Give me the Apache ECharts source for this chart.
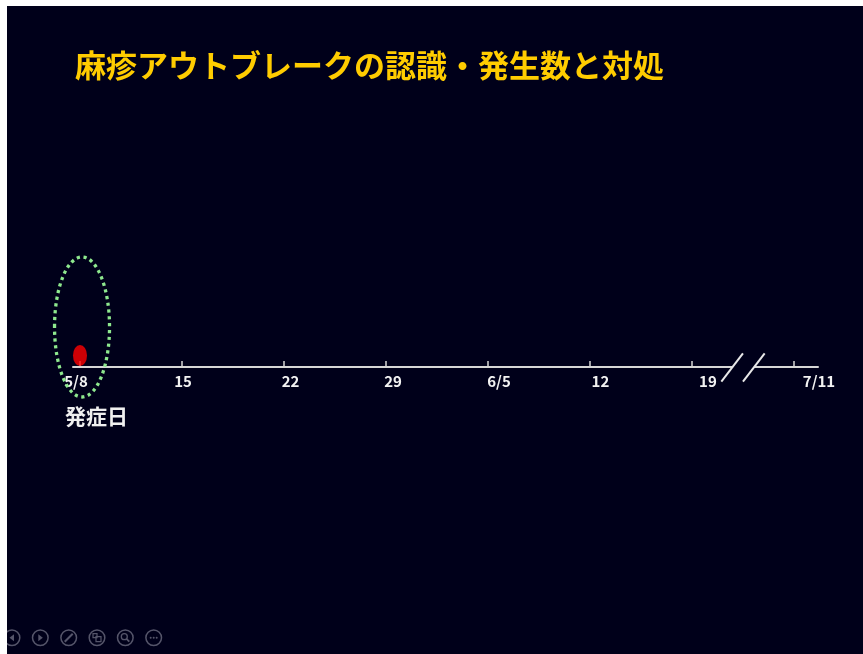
<!DOCTYPE html>
<html>
<head>
<meta charset="utf-8">
<script src="https://cdn.jsdelivr.net/npm/echarts@6/dist/echarts.min.js"></script>
<style>
  html, body { margin: 0; padding: 0; background: #ffffff; width: 863px; height: 654px; overflow: hidden; }
  #chart { position: absolute; left: 7px; top: 6px; width: 856px; height: 648px; }
</style>
</head>
<body>
<div id="chart"></div>
<script>
// ---- data ----
const titleText = '麻疹アウトブレークの認識・発生数と対処';
// tick labels on the (broken) date axis, and their positions in days from 5/8
// (the axis is broken between 6/19 and 7/11, shown as one week)
const tickLabels = ['5/8', '15', '22', '29', '6/5', '12', '19', '7/11'];
const tickDays = [0, 7, 14, 21, 28, 35, 42, 49];
// onset cases: day position and number of cases
const onsetDays = [0];
const onsetCases = [1];
const onsetLabel = '発症日';
// position of the axis break (between 19 and 7/11)
const breakDays = [45.5];
// highlighted cluster (dotted ellipse) centre: [day, cases]
const highlightCenter = [[0.14, 1.74]];

// ---- styles ----
const BG = '#00001a';
const FONT = '"Noto Sans CJK JP", "Noto Sans", sans-serif';
const AXIS_COLOR = '#d6d6d6';
const labelShift = [-4, 1, 6.5, 7, 11, 10.5, 16, 25]; // px nudges of the labels

const rich = {};
tickLabels.forEach((t, i) => {
  const s = labelShift[i];
  rich['t' + i] = {
    fontFamily: FONT, fontSize: 15, fontWeight: 'bold', color: '#f2f2f2',
    padding: s >= 0 ? [0, 0, 0, 2 * s] : [0, -2 * s, 0, 0]
  };
});

const caseData = [];
onsetDays.forEach((d, i) => {
  for (let k = 0; k < onsetCases[i]; k++) caseData.push([d, k + 0.5]);
});

const chart = echarts.init(document.getElementById('chart'), null, { renderer: 'canvas' });

const ctrlX = [5, 33.3, 61.7, 90, 118.3, 146.7];
const ctrlY = 631.7;
const ctrlColor = '#55556a';
const controls = [];
ctrlX.forEach((x) => {
  controls.push({ type: 'circle', shape: { cx: x, cy: ctrlY, r: 7.8 }, style: { fill: 'none', stroke: ctrlColor, lineWidth: 1.5 } });
});
controls.push({ type: 'polygon', shape: { points: [[ctrlX[0] + 2, ctrlY - 3.5], [ctrlX[0] + 2, ctrlY + 3.5], [ctrlX[0] - 2.5, ctrlY]] }, style: { fill: ctrlColor } });
controls.push({ type: 'polygon', shape: { points: [[ctrlX[1] - 2, ctrlY - 3.5], [ctrlX[1] - 2, ctrlY + 3.5], [ctrlX[1] + 2.5, ctrlY]] }, style: { fill: ctrlColor } });
controls.push({ type: 'line', shape: { x1: ctrlX[2] - 4, y1: ctrlY + 4, x2: ctrlX[2] + 4, y2: ctrlY - 4 }, style: { stroke: ctrlColor, lineWidth: 2 } });
controls.push({ type: 'rect', shape: { x: ctrlX[3] - 4, y: ctrlY - 4, width: 4, height: 4 }, style: { fill: 'none', stroke: ctrlColor, lineWidth: 1.2 } });
controls.push({ type: 'rect', shape: { x: ctrlX[3] - 1, y: ctrlY - 1, width: 5, height: 5 }, style: { fill: 'none', stroke: ctrlColor, lineWidth: 1.2 } });
controls.push({ type: 'circle', shape: { cx: ctrlX[4] - 1, cy: ctrlY - 1, r: 3 }, style: { fill: 'none', stroke: ctrlColor, lineWidth: 1.3 } });
controls.push({ type: 'line', shape: { x1: ctrlX[4] + 1.2, y1: ctrlY + 1.2, x2: ctrlX[4] + 4, y2: ctrlY + 4 }, style: { stroke: ctrlColor, lineWidth: 1.8 } });
[-3, 0, 3].forEach((dx) => {
  controls.push({ type: 'circle', shape: { cx: ctrlX[5] + dx, cy: ctrlY, r: 1 }, style: { fill: ctrlColor } });
});

const option = {
  backgroundColor: BG,
  animation: false,
  title: {
    text: titleText,
    left: 68,
    top: 43,
    padding: 0,
    textStyle: { color: '#ffcc00', fontFamily: FONT, fontSize: 31, fontWeight: 'bold', lineHeight: 32 }
  },
  grid: { left: 66, right: 45, top: 131, bottom: 287, containLabel: false },
  xAxis: {
    type: 'value',
    min: -0.48,
    max: 50.65,
    splitLine: { show: false },
    axisLine: { show: true, lineStyle: { color: AXIS_COLOR, width: 2 } },
    axisTick: { show: true, inside: true, length: 6, customValues: tickDays, lineStyle: { color: AXIS_COLOR, width: 1.5 } },
    axisLabel: {
      show: true,
      customValues: tickDays,
      margin: 7,
      formatter: (v) => {
        const i = tickDays.indexOf(v);
        return i < 0 ? '' : '{t' + i + '|' + tickLabels[i] + '}';
      },
      rich: rich
    }
  },
  yAxis: { type: 'value', min: 0, max: 10, show: false, splitLine: { show: false } },
  graphic: [
    {
      type: 'text', x: 58, y: 410,
      style: { text: onsetLabel, font: 'bold 21px ' + FONT, fill: '#f0f0f0', verticalAlign: 'middle', textVerticalAlign: 'middle' }
    },
    { type: 'group', children: controls }
  ],
  series: [
    {
      type: 'scatter',
      data: caseData,
      symbol: 'circle',
      symbolSize: [14, 21],
      itemStyle: { color: '#ff0000' },
      z: 5
    },
    {
      type: 'custom',
      data: highlightCenter,
      clip: false,
      z: 6,
      renderItem: (params, api) => {
        const p = api.coord([api.value(0), api.value(1)]);
        return {
          type: 'ellipse',
          shape: { cx: p[0], cy: p[1], rx: 27.5, ry: 70 },
          style: { fill: 'none', stroke: '#8ee88e', lineWidth: 3.3, lineDash: [3.2, 3.6] }
        };
      }
    },
    {
      type: 'custom',
      data: breakDays.map((d) => [d, 0]),
      clip: false,
      z: 4,
      renderItem: (params, api) => {
        const p = api.coord([api.value(0), 0]);
        const st = { stroke: '#e8e8e8', lineWidth: 2 };
        return {
          type: 'group',
          children: [
            { type: 'rect', shape: { x: p[0] - 10.5, y: p[1] - 3, width: 21.5, height: 6 }, style: { fill: BG } },
            { type: 'line', shape: { x1: p[0] - 21.6, y1: p[1] + 14.7, x2: p[0], y2: p[1] - 13.7 }, style: st },
            { type: 'line', shape: { x1: p[0], y1: p[1] + 14.7, x2: p[0] + 21.7, y2: p[1] - 13.7 }, style: st }
          ]
        };
      }
    }
  ]
};
chart.setOption(option);
</script>
</body>
</html>
